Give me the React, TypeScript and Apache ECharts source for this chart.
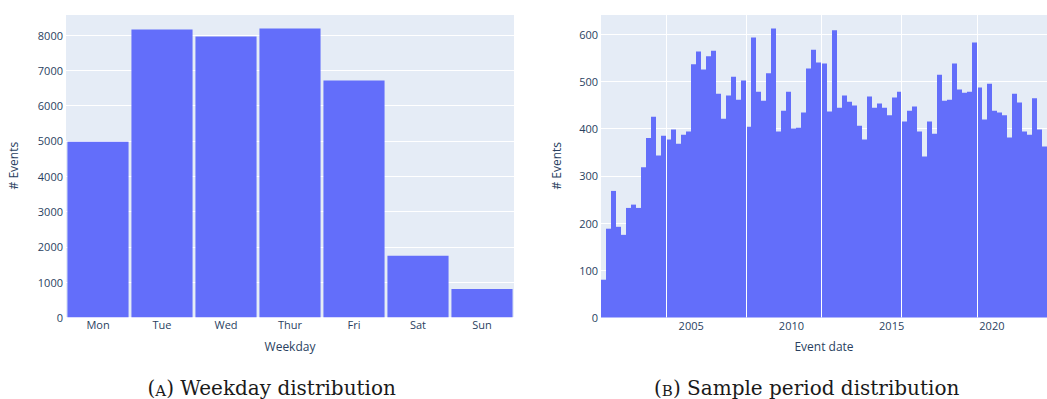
import React, { useEffect, useRef } from "react";
import * as echarts from "echarts";

// Weekday histogram
const weekdays = ["Mon", "Tue", "Wed", "Thur", "Fri", "Sat", "Sun"];
const weekdayCounts = [4980, 8163, 7964, 8191, 6714, 1742, 805];

// Quarterly histogram of event dates, first bin starts 2000-07-01
const firstBinYear = 2000.5;
const binYears = 0.25;
const quarterCounts = [
  80, 188, 268, 192, 175, 232, 239, 232, 318, 380, 425, 343, 385,
  377, 398, 368, 387, 394, 536, 563, 525, 553, 565, 474, 421, 470, 510, 461, 502,
  404, 593, 478, 459, 517, 612, 394, 438, 478, 400, 402, 434, 527, 567, 540,
  538, 436, 608, 444, 470, 457, 449, 406, 377, 468, 444, 453, 444, 428, 466, 478,
  415, 438, 447, 394, 341, 415, 389, 514, 459, 461, 538, 483, 476, 478, 582,
  487, 419, 495, 438, 434, 428, 381, 474, 455, 394, 387, 464, 398, 362,
];
// bin edges where thin white seams show between bars
const seamYears = [2003.75, 2007.75, 2011.5, 2015.5, 2019.25];

const captionA = "A";
const captionATail = ") Weekday distribution";
const captionB = "B";
const captionBTail = ") Sample period distribution";

const BAR = "#636efa";
const BG = "#e5ecf6";
const INK = "#2a3f5f";
const FONT = "'Open Sans', sans-serif";

export default function App() {
  const ref = useRef<HTMLDivElement>(null);

  useEffect(() => {
    if (!ref.current) return;
    const chart = echarts.init(ref.current, undefined, { renderer: "svg" });

    const bins = quarterCounts.map((v, i) => [
      firstBinYear + i * binYears,
      firstBinYear + (i + 1) * binYears,
      v,
    ]);
    const lastEdge = firstBinYear + quarterCounts.length * binYears;
    const leftMax = Math.max(...weekdayCounts) * 1.05;
    const rightMax = Math.max(...quarterCounts) * 1.05;

    const plain = (v: number) => String(v);
    const tickLabel = { color: INK, fontFamily: FONT, fontSize: 11, formatter: plain };
    const nameStyle = { color: INK, fontFamily: FONT, fontSize: 12 };

    const caption = (x: number, head: string, tail: string) => ({
      type: "text",
      x,
      y: 389,
      style: {
        text: `{p|(}{s|${head}}{p|${tail}}`,
        align: "center",
        verticalAlign: "middle",
        rich: {
          p: { fontFamily: "'DejaVu Serif', serif", fontSize: 20, lineHeight: 18, verticalAlign: "bottom", fill: "#1a1a1a" },
          s: { fontFamily: "'DejaVu Serif', serif", fontSize: 15, lineHeight: 15, verticalAlign: "bottom", fill: "#1a1a1a" },
        },
      },
    });

    chart.setOption({
      animation: false,
      grid: [
        { left: 66, top: 14, width: 448, bottom: 81.7, backgroundColor: BG, show: true, borderWidth: 0 },
        { left: 601, top: 14, right: -3.5, bottom: 81.5, backgroundColor: BG, show: true, borderWidth: 0 },
      ],
      xAxis: [
        {
          type: "category",
          gridIndex: 0,
          data: weekdays,
          axisLine: { show: false },
          axisTick: { show: false },
          axisLabel: { color: INK, fontFamily: FONT, fontSize: 11, margin: 2 },
          name: "Weekday",
          nameLocation: "middle",
          nameGap: 23,
          nameTextStyle: nameStyle,
        },
        {
          type: "value",
          gridIndex: 1,
          min: firstBinYear,
          max: lastEdge,
          splitNumber: 5,
          axisLine: { show: false },
          axisTick: { show: false },
          splitLine: { show: false },
          axisLabel: {
            ...tickLabel,
            margin: 2,
            showMinLabel: false,
            showMaxLabel: false,
          },
          name: "Event date",
          nameLocation: "middle",
          nameGap: 23,
          nameTextStyle: nameStyle,
        },
      ],
      yAxis: [
        {
          type: "value",
          gridIndex: 0,
          min: 0,
          max: leftMax,
          interval: 1000,
          axisLine: { show: false },
          axisTick: { show: false },
          splitLine: { lineStyle: { color: "#ffffff", width: 1 } },
          axisLabel: { ...tickLabel, margin: 3, showMaxLabel: false },
          name: "# Events",
          nameLocation: "middle",
          nameGap: 47,
          nameTextStyle: nameStyle,
        },
        {
          type: "value",
          gridIndex: 1,
          min: 0,
          max: rightMax,
          interval: 100,
          axisLine: { show: false },
          axisTick: { show: false },
          splitLine: { lineStyle: { color: "#ffffff", width: 1 } },
          axisLabel: { ...tickLabel, margin: 3, showMaxLabel: false },
          name: "# Events",
          nameLocation: "middle",
          nameGap: 39,
          nameTextStyle: nameStyle,
        },
      ],
      series: [
        {
          type: "bar",
          xAxisIndex: 0,
          yAxisIndex: 0,
          data: weekdayCounts,
          barCategoryGap: "4.5%",
          itemStyle: { color: BAR },
          silent: true,
        },
        {
          type: "custom",
          xAxisIndex: 1,
          yAxisIndex: 1,
          data: bins,
          encode: { x: [0, 1], y: 2 },
          silent: true,
          renderItem: (_params: any, api: any) => {
            const top = api.coord([api.value(0), api.value(2)]);
            const base = api.coord([api.value(1), 0]);
            // snap edges to whole pixels so neighbouring bins butt together cleanly
            const x0 = Math.round(top[0]);
            const x1 = Math.round(base[0]);
            return {
              type: "rect",
              shape: { x: x0, y: top[1], width: x1 - x0, height: base[1] - top[1] },
              style: { fill: BAR },
            };
          },
          markLine: {
            silent: true,
            symbol: "none",
            label: { show: false },
            lineStyle: { color: "#ffffff", width: 1, type: "solid" },
            data: seamYears.map((x) => ({ xAxis: x })),
          },
        },
      ],
      graphic: [caption(271.7, captionA, captionATail), caption(806.7, captionB, captionBTail)],
    });

    return () => chart.dispose();
  }, []);

  return (
    <div
      ref={ref}
      style={{ position: "absolute", left: 0, top: 0, width: 1047, height: 399 }}
    />
  );
}
